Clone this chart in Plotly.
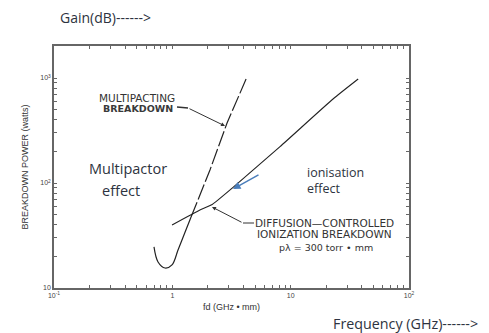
import plotly.graph_objects as go

# ---- data ----
multipact_fd = [0.70, 0.757, 0.868, 0.994, 1.117, 1.28, 1.44]
multipact_p = [24.6, 17.7, 15.5, 16.6, 23.0, 34.0, 47.4]
multipact_dash_fd = [1.44, 2.08, 2.90, 4.20]
multipact_dash_p = [47.4, 133, 373, 978]
diffusion_fd = [0.994, 1.71, 2.17, 3.26, 8.13, 22.8, 37.2]
diffusion_p = [39.8, 55.3, 62.5, 91, 222, 631, 978]

x_tickvals = [0.1, 1, 10, 100]
x_ticktext = ["10<sup>-1</sup>", "1", "10", "10<sup>2</sup>"]
y_tickvals = [10, 100, 1000]
y_ticktext = ["10", "10<sup>2</sup>", "10<sup>3</sup>"]

OFF = 8  # page body margin
W, H = 489 - OFF, 333 - OFF
L, R, T, B = 54 - OFF, 409 - OFF, 46 - OFF, 288 - OFF


def px(x):
    return (x - OFF - L) / (R - L)


def py(y):
    return (B - (y - OFF)) / (B - T)


def minor_list(lo_exp, hi_exp, top=None):
    vals = []
    for e in range(lo_exp, hi_exp + 1):
        for m in range(1, 10):
            vals.append(m * 10 ** e)
    if top:
        vals = [v for v in vals if v <= top]
    return vals


xticks_all = [v for v in minor_list(-1, 2) if v <= 100]
yticks_all = minor_list(1, 3, top=2000)


def label(vals, major, text):
    out = []
    for v in vals:
        hit = None
        for mv, t in zip(major, text):
            if abs(v - mv) / mv < 1e-9:
                hit = t
        out.append(hit if hit is not None else "")
    return out


line_col = "#222222"
fig = go.Figure()
fig.add_trace(go.Scatter(x=multipact_fd, y=multipact_p, mode="lines",
                         line=dict(color=line_col, width=1.2, shape="spline"),
                         showlegend=False, hoverinfo="skip"))
fig.add_trace(go.Scatter(x=multipact_dash_fd, y=multipact_dash_p, mode="lines",
                         line=dict(color=line_col, width=1.2, dash="16px,3px"),
                         showlegend=False, hoverinfo="skip"))
fig.add_trace(go.Scatter(x=diffusion_fd, y=diffusion_p, mode="lines",
                         line=dict(color=line_col, width=1.1, shape="spline", smoothing=0.5),
                         showlegend=False, hoverinfo="skip"))

axis_col = "#666666"
tick_font = dict(family="Liberation Sans", size=7, color="#444444")
fig.update_xaxes(type="log", range=[-1, 2], tickmode="array",
                 tickvals=xticks_all, ticktext=label(xticks_all, x_tickvals, x_ticktext),
                 ticks="inside", ticklen=3, tickcolor=axis_col, tickwidth=1,
                 showline=True, linecolor=axis_col, linewidth=1.5, mirror="ticks",
                 showgrid=False, zeroline=False, tickfont=tick_font,
                 title=dict(text="fd (GHz • mm)", font=dict(family="Liberation Sans", size=9, color="#333333"),
                            standoff=6))
fig.update_yaxes(type="log", range=[1, 3.305], tickmode="array",
                 tickvals=yticks_all, ticktext=label(yticks_all, y_tickvals, y_ticktext),
                 ticks="inside", ticklen=3, tickcolor=axis_col, tickwidth=1,
                 showline=True, linecolor=axis_col, linewidth=1.5, mirror="ticks",
                 showgrid=False, zeroline=False, tickfont=tick_font,
                 title=dict(text="BREAKDOWN POWER (watts)", font=dict(family="Liberation Sans", size=9, color="#333333"),
                            standoff=10))

small = dict(family="DejaVu Sans", size=10.5, color="#333333")
blue_txt = "#2d3340"
ann = []
ann.append(dict(xref="paper", yref="paper", x=px(137), y=py(98), text="MULTIPACTING",
                showarrow=False, font=small, xanchor="center", yanchor="middle"))
ann.append(dict(xref="paper", yref="paper", x=px(138), y=py(108), text="<b>BREAKDOWN</b>",
                showarrow=False, font=dict(family="DejaVu Sans", size=9.5, color="#3a3a3a"),
                xanchor="center", yanchor="middle"))
big = dict(family="Open Sans", size=14.5, color=blue_txt)
ann.append(dict(xref="paper", yref="paper", x=px(128), y=py(168), text="Multipactor",
                showarrow=False, font=big, xanchor="center", yanchor="middle"))
ann.append(dict(xref="paper", yref="paper", x=px(121), y=py(190), text="effect",
                showarrow=False, font=big, xanchor="center", yanchor="middle"))
mid = dict(family="Open Sans", size=12.5, color=blue_txt)
ann.append(dict(xref="paper", yref="paper", x=px(305), y=py(172), text="ionisation",
                showarrow=False, font=mid, xanchor="left", yanchor="middle"))
ann.append(dict(xref="paper", yref="paper", x=px(305), y=py(188), text="effect",
                showarrow=False, font=mid, xanchor="left", yanchor="middle"))
ann.append(dict(xref="paper", yref="paper", x=px(324), y=py(223), text="DIFFUSION\u2014CONTROLLED",
                showarrow=False, font=small, xanchor="center", yanchor="middle"))
ann.append(dict(xref="paper", yref="paper", x=px(324), y=py(234), text="IONIZATION BREAKDOWN",
                showarrow=False, font=small, xanchor="center", yanchor="middle"))
ann.append(dict(xref="paper", yref="paper", x=px(326), y=py(247), text="p\u03bb = 300 torr • mm",
                showarrow=False, font=dict(family="DejaVu Sans", size=9.5, color="#333333"),
                xanchor="center", yanchor="middle"))
# arrows
ann.append(dict(xref="paper", yref="paper", x=px(225), y=py(126), ax=188 - 225, ay=108 - 126,
                text="", showarrow=True, arrowhead=2, arrowsize=0.8, arrowwidth=1, arrowcolor="#333333"))
ann.append(dict(xref="paper", yref="paper", x=px(212), y=py(207), ax=243 - 212, ay=223 - 207,
                text="", showarrow=True, arrowhead=2, arrowsize=0.8, arrowwidth=1, arrowcolor="#333333"))
ann.append(dict(xref="paper", yref="paper", x=px(233), y=py(189), ax=260 - 233, ay=174 - 189,
                text="", showarrow=True, arrowhead=2, arrowsize=1, arrowwidth=1.5, arrowcolor="#4a7ebb"))
# outside labels
ann.append(dict(xref="paper", yref="paper", x=px(58), y=py(17), text="Gain(dB)------>",
                showarrow=False, font=dict(family="Open Sans", size=14, color=blue_txt),
                xanchor="left", yanchor="middle"))
ann.append(dict(xref="paper", yref="paper", x=px(331), y=py(323), text="Frequency (GHz)------>",
                showarrow=False, font=dict(family="Open Sans", size=14.3, color=blue_txt),
                xanchor="left", yanchor="middle"))

shapes = [
    dict(type="line", xref="paper", yref="paper", x0=px(177), y0=py(107), x1=px(188), y1=py(108),
         line=dict(color="#333333", width=1.5)),
    dict(type="line", xref="paper", yref="paper", x0=px(243), y0=py(223), x1=px(254), y1=py(223),
         line=dict(color="#333333", width=1)),
]

fig.update_layout(width=W, height=H, margin=dict(l=L, r=W - R, t=T, b=H - B),
                  plot_bgcolor="white", paper_bgcolor="white",
                  annotations=ann, shapes=shapes, showlegend=False)
fig.write_html("out.html")
